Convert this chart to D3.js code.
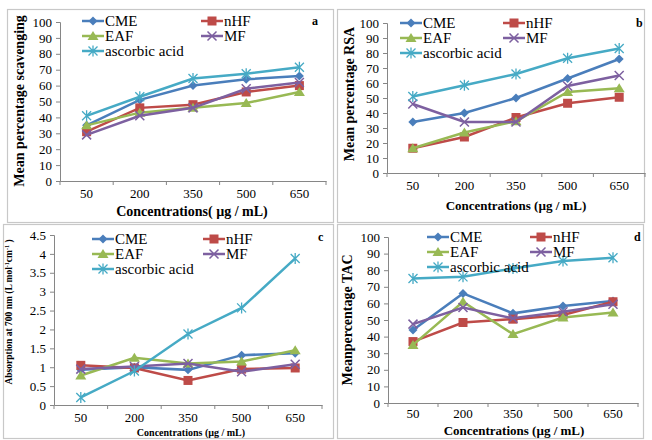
<!DOCTYPE html>
<html lang="en">
<head>
<meta charset="UTF-8">
<title>Antioxidant activity panels</title>
<style>
  body { margin: 0; background: #fff; }
  svg { display: block; }
  svg text { font-family: "Liberation Serif", "DejaVu Serif", serif; fill: #000; }
</style>
</head>
<body>
<svg width="652" height="440"></svg>
<script src="https://d3js.org/d3.v7.min.js"></script>
<script>
// categories and series
const concentrations = ["50", "200", "350", "500", "650"];
const seriesNames = ["CME", "nHF", "EAF", "MF", "ascorbic acid"];

// panel a: DPPH scavenging
const aCME = [35, 51, 60, 64, 66];
const aNHF = [31, 46, 48, 56, 60];
const aEAF = [35, 43, 46, 49, 56];
const aMF = [29, 41, 46, 58, 62];
const aAsc = [41, 53, 64.5, 67.5, 71.5];

// panel b: RSA
const bCME = [34, 40, 50, 63, 76];
const bNHF = [16.5, 24, 37, 46.5, 50.5];
const bEAF = [16.5, 27, 34.5, 54, 56.5];
const bMF = [46, 34, 34, 58, 65];
const bAsc = [51, 58.5, 66, 76.5, 83];

// panel c: absorption at 700 nm
const cCME = [0.93, 1.0, 0.93, 1.32, 1.37];
const cNHF = [1.05, 0.98, 0.65, 0.95, 0.98];
const cEAF = [0.78, 1.25, 1.1, 1.15, 1.45];
const cMF = [0.95, 1.02, 1.1, 0.88, 1.08];
const cAsc = [0.2, 0.9, 1.88, 2.57, 3.88];

// panel d: TAC
const dCME = [44, 66, 54, 58.5, 61.5];
const dNHF = [37, 48.5, 50.5, 53, 61];
const dEAF = [35, 61, 41.5, 51.5, 54.5];
const dMF = [47.5, 57.5, 51, 55, 59.5];
const dAsc = [75, 76, 81, 85.5, 87.5];

const ticksPct = [0, 10, 20, 30, 40, 50, 60, 70, 80, 90, 100];
const ticksAbs = [0, 0.5, 1, 1.5, 2, 2.5, 3, 3.5, 4, 4.5];

const colors = ["#4a7ebb", "#be4b48", "#98b954", "#7d60a0", "#46aac5"];
const markers = ["diamond", "square", "triangle", "cross", "star"];
const serif = "'Liberation Serif', 'DejaVu Serif', serif";

const svg = d3.select("svg");

// panel frames
const frames = [[7, 9, 326, 213], [337, 9, 307, 213], [3, 224, 330, 214], [337, 224, 306, 214]];
svg.selectAll("rect.frame").data(frames).join("rect")
  .attr("class", "frame")
  .attr("x", d => d[0] + 0.5).attr("y", d => d[1] + 0.5)
  .attr("width", d => d[2]).attr("height", d => d[3])
  .attr("fill", "none").attr("stroke", "#c8c8c8").attr("stroke-width", 1.2);

function drawMarker(g, type, color, x, y) {
  if (type === "diamond") {
    g.append("path").attr("d", `M${x},${y - 4.5}L${x + 4.5},${y}L${x},${y + 4.5}L${x - 4.5},${y}Z`).attr("fill", color);
  } else if (type === "square") {
    g.append("rect").attr("x", x - 4.5).attr("y", y - 4.5).attr("width", 9).attr("height", 9).attr("fill", color);
  } else if (type === "triangle") {
    g.append("path").attr("d", `M${x},${y - 5}L${x + 5.5},${y + 4}L${x - 5.5},${y + 4}Z`).attr("fill", color);
  } else if (type === "cross") {
    g.append("path").attr("d", `M${x - 4.5},${y - 4.5}L${x + 4.5},${y + 4.5}M${x - 4.5},${y + 4.5}L${x + 4.5},${y - 4.5}`)
      .attr("stroke", color).attr("stroke-width", 1.5);
  } else {
    g.append("path").attr("d", `M${x - 4.5},${y - 4.5}L${x + 4.5},${y + 4.5}M${x - 4.5},${y + 4.5}L${x + 4.5},${y - 4.5}M${x},${y - 5.5}L${x},${y + 5.5}`)
      .attr("stroke", color).attr("stroke-width", 1.3);
  }
}

function panel(p) {
  const g = svg.append("g");
  const x = d3.scaleBand().domain(concentrations).range([p.x0, p.x1]);
  const y = d3.scaleLinear().domain([0, p.ymax]).range([p.yb, p.yt]);
  const idx = d3.scaleLinear().domain([0, 5]).range([p.x0, p.x1]);

  // y axis
  const ya = g.append("g").attr("transform", `translate(${p.x0},0)`)
    .call(d3.axisLeft(y).tickValues(p.ticks).tickSize(4).tickPadding(4).tickFormat(d3.format("")));
  ya.attr("font-family", serif);
  ya.select(".domain").attr("stroke", "#868686");
  ya.selectAll(".tick line").attr("stroke", "#868686");
  ya.selectAll("text").style("font-family", serif).style("font-size", "13px").attr("fill", "#000");

  // x axis
  const xa = g.append("g").attr("transform", `translate(0,${p.yb})`)
    .call(d3.axisBottom(x).tickSize(0).tickPadding(p.xpad));
  xa.attr("font-family", serif);
  xa.select(".domain").attr("stroke", "#868686");
  xa.selectAll("text").style("font-family", serif).style("font-size", "13px").attr("fill", "#000");
  g.append("g").selectAll("line").data(d3.range(6)).join("line")
    .attr("x1", d => idx(d)).attr("x2", d => idx(d))
    .attr("y1", p.yb).attr("y2", p.yb + 4)
    .attr("stroke", "#868686");

  // series
  const line = d3.line().x((d, i) => x(concentrations[i]) + x.bandwidth() / 2).y(d => y(d));
  p.series.forEach((s, k) => {
    g.append("path").datum(s).attr("d", line)
      .attr("fill", "none").attr("stroke", colors[k]).attr("stroke-width", 2.5);
    s.forEach((v, i) => drawMarker(g, markers[k], colors[k], x(concentrations[i]) + x.bandwidth() / 2, y(v)));
  });

  // legend
  const cols = [p.lx1, p.lx2];
  const rows = [p.ly, p.ly + 15, p.ly + 30];
  seriesNames.forEach((name, k) => {
    const lx = cols[k % 2];
    const ly = rows[Math.floor(k / 2)];
    g.append("line").attr("x1", lx).attr("x2", lx + 22).attr("y1", ly).attr("y2", ly)
      .attr("stroke", colors[k]).attr("stroke-width", 2.5);
    drawMarker(g, markers[k], colors[k], lx + 11, ly);
    g.append("text").attr("x", lx + 23).attr("y", ly + 5)
      .style("font-family", serif).style("font-size", "15px").text(name);
  });

  g.append("text").attr("x", p.tagX).attr("y", p.tagY)
    .style("font-family", serif).style("font-size", "12px").style("font-weight", "bold").text(p.tag);

  // axis titles
  g.append("text").attr("x", p.xtX).attr("y", p.xtY).attr("text-anchor", "middle")
    .style("font-family", serif).style("font-size", p.xtSize).style("font-weight", "bold").text(p.xTitle);
  const yt = g.append("text")
    .attr("transform", `translate(${p.ytX},${p.ytY}) rotate(-90)`)
    .attr("text-anchor", "middle")
    .style("font-family", serif).style("font-size", p.ytSize).style("font-weight", "bold");
  if (p.yTitleParts) {
    p.yTitleParts.forEach(t => {
      const ts = yt.append("tspan").text(t[0]);
      if (t[1]) ts.attr("baseline-shift", "super").style("font-size", "6px");
    });
  } else {
    yt.text(p.yTitle);
  }
}

panel({
  x0: 60, x1: 326, yt: 22, yb: 181, ymax: 100, ticks: ticksPct, xpad: 8,
  series: [aCME, aNHF, aEAF, aMF, aAsc],
  lx1: 82, lx2: 201, ly: 21, tag: "a", tagX: 312, tagY: 25,
  xTitle: "Concentrations( \u00b5g / mL)", xtX: 192, xtY: 216, xtSize: "14px",
  yTitle: "Mean percentage scavenging", ytX: 24, ytY: 101, ytSize: "14px"
});

panel({
  x0: 387, x1: 645, yt: 23, yb: 173, ymax: 100, ticks: ticksPct, xpad: 8,
  series: [bCME, bNHF, bEAF, bMF, bAsc],
  lx1: 400, lx2: 503, ly: 23, tag: "b", tagX: 636, tagY: 27,
  xTitle: "Concentrations (\u00b5g / mL)", xtX: 516, xtY: 210, xtSize: "13px",
  yTitle: "Mean percentage RSA", ytX: 354, ytY: 94, ytSize: "14px"
});

panel({
  x0: 54, x1: 322, yt: 235, yb: 405, ymax: 4.5, ticks: ticksAbs, xpad: 8,
  series: [cCME, cNHF, cEAF, cMF, cAsc],
  lx1: 92, lx2: 203, ly: 239, tag: "c", tagX: 318, tagY: 241,
  xTitle: "Concentrations (\u00b5g / mL)", xtX: 191, xtY: 436, xtSize: "10px",
  yTitleParts: [["Absorption  at 700 nm (L mol"], ["-1", true], ["cm"], ["-1", true], [" )"]],
  ytX: 12, ytY: 312, ytSize: "9.5px"
});

panel({
  x0: 388, x1: 638, yt: 237, yb: 403, ymax: 100, ticks: ticksPct, xpad: 6,
  series: [dCME, dNHF, dEAF, dMF, dAsc],
  lx1: 427, lx2: 530, ly: 237, tag: "d", tagX: 634, tagY: 241,
  xTitle: "Concentrations  (\u00b5g / mL)", xtX: 514, xtY: 435, xtSize: "13px",
  yTitle: "Meanpercentage TAC", ytX: 352, ytY: 320, ytSize: "14px"
});
</script>
</body>
</html>
